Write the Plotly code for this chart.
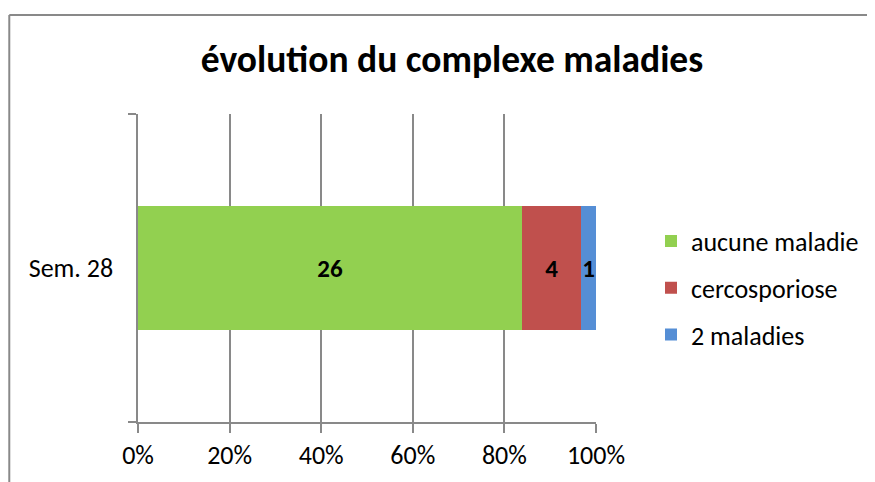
import plotly.graph_objects as go

categories = ["Sem. 28"]
series_names = ["aucune maladie", "cercosporiose", "2 maladies"]
series_values = [[26], [4], [1]]
series_colors = ["#92D050", "#C0504D", "#558ED5"]
tick_vals = [0, 20, 40, 60, 80, 100]
tick_text = ["0%", "20%", "40%", "60%", "80%", "100%"]

FONT = "Carlito, Calibri, Lato, 'Liberation Sans', sans-serif"

fig = go.Figure()
for i, (name, vals, col) in enumerate(zip(series_names, series_values, series_colors)):
    fig.add_trace(go.Bar(
        y=categories, x=vals, name=name, orientation="h",
        marker=dict(color=col, line=dict(width=0)),
        text=[str(v) for v in vals], textposition="inside",
        insidetextanchor="middle", textangle=0, constraintext="none",
        textfont=dict(family=FONT, size=25, color="black", weight="bold"),
        legendgroup=f"g{i}",
    ))

# page has an 8px body margin; figure is sized to fill the rest of the window
W, H = 867, 474
L, R, T, B = 130, 278, 106, 60
pw, ph = W - L - R, H - T - B

fig.update_layout(
    width=W, height=H,
    margin=dict(l=L, r=R, t=T, b=B, pad=0),
    barmode="stack", barnorm="percent", bargap=0.6,
    plot_bgcolor="white", paper_bgcolor="white",
    font=dict(family=FONT, size=26, color="black"),
    title=dict(text="<b>évolution du complexe maladies</b>", x=444 / W, xanchor="center",
               xref="container", y=1 - 51 / H, yanchor="middle",
               font=dict(family=FONT, size=37.5, color="black")),
    legend=dict(x=(643 - L) / pw, y=1 - (280 - T) / ph, xanchor="left", yanchor="middle",
                font=dict(family=FONT, size=26), tracegroupgap=10,
                itemwidth=30, bgcolor="rgba(0,0,0,0)"),
    showlegend=True,
)
fig.update_xaxes(range=[0, 100], tickvals=tick_vals, ticktext=tick_text,
                 showgrid=True, gridcolor="#898989", gridwidth=2,
                 showline=True, linecolor="#898989", linewidth=2,
                 ticks="outside", ticklen=9, tickwidth=2, tickcolor="#898989",
                 zeroline=False, tickfont=dict(family=FONT, size=26))
fig.update_yaxes(showline=True, linecolor="#898989", linewidth=2,
                 ticks="outside", ticklen=8, tickwidth=2, tickcolor="#898989",
                 tickson="boundaries", showgrid=False,
                 tickfont=dict(family=FONT, size=26), ticksuffix="   ")

# outer chart border (top and left edges visible in the reference)
x0 = (1 - L) / pw
y0 = 1 + (T - 7) / ph
fig.add_shape(type="line", xref="paper", yref="paper", x0=x0, x1=(W + 5 - L) / pw,
              y0=y0, y1=y0, line=dict(color="#898989", width=2))
fig.add_shape(type="line", xref="paper", yref="paper", x0=x0, x1=x0,
              y0=y0, y1=-(B + 5) / ph, line=dict(color="#898989", width=2))

fig.write_html("out.html")
